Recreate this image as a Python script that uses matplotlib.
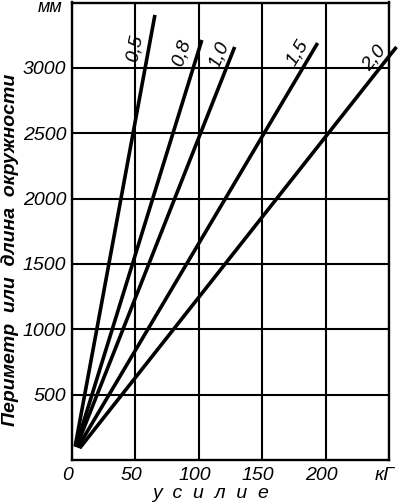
import matplotlib
matplotlib.use("Agg")
import matplotlib.pyplot as plt
import matplotlib.transforms as mtransforms

# ---- data ----
line_labels = ["0,5", "0,8", "1,0", "1,5", "2,0"]
start_force = [2.5, 3.0, 3.5, 4.5, 6.0]        # кГ
start_perim = [105, 100, 100, 95, 90]          # мм
end_force = [65.4, 102.4, 128.3, 193.7, 255.9]  # кГ
end_perim = [3405, 3213, 3160, 3190, 3160]     # мм
label_force = [49.6, 86.6, 116.5, 178.0, 238.6]
label_perim = [3152, 3114, 3099, 3114, 3076]
label_angle = [79, 72, 67, 59, 51]

x_ticks = [0, 50, 100, 150, 200, 250]
x_ticklabels = ["0", "50", "100", "150", "200", "кГ"]
y_ticks = [500, 1000, 1500, 2000, 2500, 3000]
y_ticklabels = ["500", "1000", "1500", "2000", "2500", "3000"]

FONT = ["Liberation Sans", "DejaVu Sans"]

fig = plt.figure(figsize=(4.0, 5.04), dpi=100)
ax = fig.add_axes([72/400, 44/504, (389-72)/400, (504-44-2.5)/504])
ax.set_xlim(0, 250)
ax.set_ylim(0, 3500)

ax.set_xticks(x_ticks)
ax.set_xticklabels(x_ticklabels, family=FONT, style="italic", fontsize=14)
ax.set_yticks(y_ticks)
ax.set_yticklabels(y_ticklabels, family=FONT, style="italic", fontsize=14)
ax.tick_params(length=0)
ax.tick_params(axis="x", pad=5)
ax.tick_params(axis="y", pad=4)
offset = mtransforms.ScaledTranslation(-4/100, 0, fig.dpi_scale_trans)
for lab in ax.get_xticklabels():
    lab.set_transform(lab.get_transform() + offset)

ax.grid(True, color="black", linewidth=1.5)
for s in ax.spines.values():
    s.set_linewidth(1.7)

for xs, ys, xe, ye in zip(start_force, start_perim, end_force, end_perim):
    ax.plot([xs, xe], [ys, ye], color="black", linewidth=2.6,
            solid_capstyle="butt", clip_on=False)

for t, x, y, a in zip(line_labels, label_force, label_perim, label_angle):
    ax.text(x, y, t, rotation=a, rotation_mode="anchor", ha="center",
            va="center", family=FONT, style="italic", fontsize=14)

trans = mtransforms.blended_transform_factory(ax.transAxes, ax.transData)
ax.text(-0.03, 3460, "мм", transform=trans, ha="right", va="center",
        family=FONT, style="italic", fontsize=13)

fig.text(211/400, 1 - 494/504, "у  с  и  л  и  е", ha="center", va="center",
         family=FONT, style="italic", fontsize=14)
fig.text(10/400, 1 - 250/504, "Периметр  или  длина  окружности",
         rotation=90, ha="center", va="center", family=FONT,
         style="italic", fontsize=14, fontweight="bold")

fig.savefig("out.png", dpi=100)
